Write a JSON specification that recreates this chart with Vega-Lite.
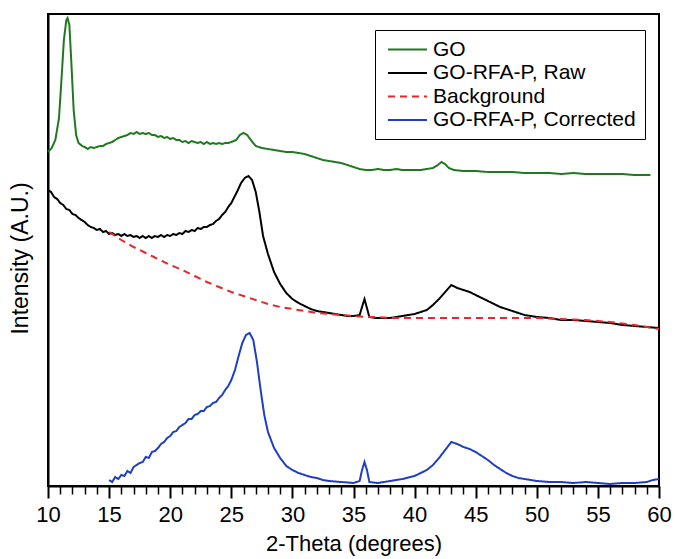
{
  "$schema": "https://vega.github.io/schema/vega-lite/v6.json",
  "width": 611,
  "height": 472,
  "autosize": {"type": "none"},
  "padding": {"left": 48, "top": 14, "right": 16, "bottom": 73},
  "background": "white",
  "config": {
    "font": "Liberation Sans",
    "view": {"stroke": "black", "strokeWidth": 2},
    "axis": {"domainColor": "black", "domainWidth": 2, "tickColor": "black", "labelColor": "black", "titleColor": "black", "grid": false, "titleFontWeight": "normal"}
  },
  "data": {
    "values": [
      {"s": "GO", "x": 10.0, "y": 334}, {"s": "GO", "x": 10.3, "y": 338}, {"s": "GO", "x": 10.6, "y": 346}, {"s": "GO", "x": 10.9, "y": 368},
      {"s": "GO", "x": 11.1, "y": 406}, {"s": "GO", "x": 11.3, "y": 446}, {"s": "GO", "x": 11.5, "y": 466}, {"s": "GO", "x": 11.6, "y": 468},
      {"s": "GO", "x": 11.75, "y": 461}, {"s": "GO", "x": 11.9, "y": 426}, {"s": "GO", "x": 12.1, "y": 376}, {"s": "GO", "x": 12.3, "y": 351},
      {"s": "GO", "x": 12.5, "y": 343}, {"s": "GO", "x": 12.8, "y": 340}, {"s": "GO", "x": 13.0, "y": 339}, {"s": "GO", "x": 13.25, "y": 337},
      {"s": "GO", "x": 13.5, "y": 339}, {"s": "GO", "x": 13.75, "y": 338}, {"s": "GO", "x": 14.0, "y": 339}, {"s": "GO", "x": 14.25, "y": 340},
      {"s": "GO", "x": 14.5, "y": 340}, {"s": "GO", "x": 14.75, "y": 342}, {"s": "GO", "x": 15.0, "y": 343}, {"s": "GO", "x": 15.25, "y": 344},
      {"s": "GO", "x": 15.5, "y": 346}, {"s": "GO", "x": 15.75, "y": 348}, {"s": "GO", "x": 16.0, "y": 349}, {"s": "GO", "x": 16.25, "y": 350},
      {"s": "GO", "x": 16.5, "y": 351}, {"s": "GO", "x": 16.75, "y": 353}, {"s": "GO", "x": 17.0, "y": 352}, {"s": "GO", "x": 17.25, "y": 354},
      {"s": "GO", "x": 17.5, "y": 352}, {"s": "GO", "x": 17.75, "y": 353}, {"s": "GO", "x": 18.0, "y": 352}, {"s": "GO", "x": 18.25, "y": 353},
      {"s": "GO", "x": 18.5, "y": 351}, {"s": "GO", "x": 18.75, "y": 351}, {"s": "GO", "x": 19.0, "y": 349}, {"s": "GO", "x": 19.25, "y": 350},
      {"s": "GO", "x": 19.5, "y": 348}, {"s": "GO", "x": 19.75, "y": 349}, {"s": "GO", "x": 20.0, "y": 347}, {"s": "GO", "x": 20.25, "y": 348},
      {"s": "GO", "x": 20.5, "y": 346}, {"s": "GO", "x": 20.75, "y": 346}, {"s": "GO", "x": 21.0, "y": 344}, {"s": "GO", "x": 21.25, "y": 345},
      {"s": "GO", "x": 21.5, "y": 343}, {"s": "GO", "x": 21.75, "y": 345}, {"s": "GO", "x": 22.0, "y": 344}, {"s": "GO", "x": 22.25, "y": 343},
      {"s": "GO", "x": 22.5, "y": 344}, {"s": "GO", "x": 22.75, "y": 342}, {"s": "GO", "x": 23.0, "y": 344}, {"s": "GO", "x": 23.25, "y": 342},
      {"s": "GO", "x": 23.5, "y": 343}, {"s": "GO", "x": 23.75, "y": 342}, {"s": "GO", "x": 24.0, "y": 343}, {"s": "GO", "x": 24.25, "y": 342},
      {"s": "GO", "x": 24.5, "y": 343}, {"s": "GO", "x": 24.75, "y": 343}, {"s": "GO", "x": 25.0, "y": 344}, {"s": "GO", "x": 25.4, "y": 346},
      {"s": "GO", "x": 25.7, "y": 351}, {"s": "GO", "x": 26.0, "y": 353}, {"s": "GO", "x": 26.3, "y": 351}, {"s": "GO", "x": 26.6, "y": 346},
      {"s": "GO", "x": 27.0, "y": 340}, {"s": "GO", "x": 27.5, "y": 338}, {"s": "GO", "x": 28.0, "y": 337}, {"s": "GO", "x": 28.5, "y": 336},
      {"s": "GO", "x": 29.0, "y": 335}, {"s": "GO", "x": 29.5, "y": 334}, {"s": "GO", "x": 30.0, "y": 334}, {"s": "GO", "x": 30.5, "y": 333},
      {"s": "GO", "x": 31.0, "y": 332}, {"s": "GO", "x": 31.5, "y": 330}, {"s": "GO", "x": 32.0, "y": 328}, {"s": "GO", "x": 32.5, "y": 326},
      {"s": "GO", "x": 33.0, "y": 325}, {"s": "GO", "x": 33.5, "y": 324}, {"s": "GO", "x": 34.0, "y": 323}, {"s": "GO", "x": 34.5, "y": 321},
      {"s": "GO", "x": 35.0, "y": 319}, {"s": "GO", "x": 35.5, "y": 317}, {"s": "GO", "x": 36.0, "y": 316}, {"s": "GO", "x": 36.5, "y": 316},
      {"s": "GO", "x": 37.0, "y": 317}, {"s": "GO", "x": 37.5, "y": 316}, {"s": "GO", "x": 38.0, "y": 316}, {"s": "GO", "x": 38.5, "y": 317},
      {"s": "GO", "x": 39.0, "y": 316}, {"s": "GO", "x": 39.5, "y": 316}, {"s": "GO", "x": 40.0, "y": 316}, {"s": "GO", "x": 40.5, "y": 316},
      {"s": "GO", "x": 41.0, "y": 317}, {"s": "GO", "x": 41.5, "y": 318}, {"s": "GO", "x": 41.9, "y": 321}, {"s": "GO", "x": 42.2, "y": 324},
      {"s": "GO", "x": 42.5, "y": 322}, {"s": "GO", "x": 42.8, "y": 318}, {"s": "GO", "x": 43.2, "y": 316}, {"s": "GO", "x": 44.0, "y": 315},
      {"s": "GO", "x": 45.0, "y": 315}, {"s": "GO", "x": 46.0, "y": 314}, {"s": "GO", "x": 47.0, "y": 314}, {"s": "GO", "x": 48.0, "y": 314},
      {"s": "GO", "x": 49.0, "y": 313}, {"s": "GO", "x": 50.0, "y": 313}, {"s": "GO", "x": 51.0, "y": 313}, {"s": "GO", "x": 52.0, "y": 312},
      {"s": "GO", "x": 53.0, "y": 313}, {"s": "GO", "x": 54.0, "y": 312}, {"s": "GO", "x": 55.0, "y": 312}, {"s": "GO", "x": 56.0, "y": 312},
      {"s": "GO", "x": 57.0, "y": 312}, {"s": "GO", "x": 58.0, "y": 311}, {"s": "GO", "x": 59.0, "y": 311}, {"s": "GO", "x": 59.3, "y": 311},

      {"s": "GO-RFA-P, Raw", "x": 10.0, "y": 296}, {"s": "GO-RFA-P, Raw", "x": 10.25, "y": 294}, {"s": "GO-RFA-P, Raw", "x": 10.5, "y": 289},
      {"s": "GO-RFA-P, Raw", "x": 10.75, "y": 287}, {"s": "GO-RFA-P, Raw", "x": 11.0, "y": 283}, {"s": "GO-RFA-P, Raw", "x": 11.25, "y": 281},
      {"s": "GO-RFA-P, Raw", "x": 11.5, "y": 277}, {"s": "GO-RFA-P, Raw", "x": 11.75, "y": 276}, {"s": "GO-RFA-P, Raw", "x": 12.0, "y": 272},
      {"s": "GO-RFA-P, Raw", "x": 12.25, "y": 271}, {"s": "GO-RFA-P, Raw", "x": 12.5, "y": 268}, {"s": "GO-RFA-P, Raw", "x": 12.75, "y": 266},
      {"s": "GO-RFA-P, Raw", "x": 13.0, "y": 264}, {"s": "GO-RFA-P, Raw", "x": 13.25, "y": 261}, {"s": "GO-RFA-P, Raw", "x": 13.5, "y": 259},
      {"s": "GO-RFA-P, Raw", "x": 13.75, "y": 258}, {"s": "GO-RFA-P, Raw", "x": 14.0, "y": 256}, {"s": "GO-RFA-P, Raw", "x": 14.25, "y": 257},
      {"s": "GO-RFA-P, Raw", "x": 14.5, "y": 254}, {"s": "GO-RFA-P, Raw", "x": 14.75, "y": 255}, {"s": "GO-RFA-P, Raw", "x": 15.0, "y": 252},
      {"s": "GO-RFA-P, Raw", "x": 15.25, "y": 253}, {"s": "GO-RFA-P, Raw", "x": 15.5, "y": 251}, {"s": "GO-RFA-P, Raw", "x": 15.75, "y": 252},
      {"s": "GO-RFA-P, Raw", "x": 16.0, "y": 250}, {"s": "GO-RFA-P, Raw", "x": 16.25, "y": 252}, {"s": "GO-RFA-P, Raw", "x": 16.5, "y": 250},
      {"s": "GO-RFA-P, Raw", "x": 16.75, "y": 251}, {"s": "GO-RFA-P, Raw", "x": 17.0, "y": 249}, {"s": "GO-RFA-P, Raw", "x": 17.25, "y": 250},
      {"s": "GO-RFA-P, Raw", "x": 17.5, "y": 248}, {"s": "GO-RFA-P, Raw", "x": 17.75, "y": 250}, {"s": "GO-RFA-P, Raw", "x": 18.0, "y": 248},
      {"s": "GO-RFA-P, Raw", "x": 18.25, "y": 250}, {"s": "GO-RFA-P, Raw", "x": 18.5, "y": 248}, {"s": "GO-RFA-P, Raw", "x": 18.75, "y": 250},
      {"s": "GO-RFA-P, Raw", "x": 19.0, "y": 249}, {"s": "GO-RFA-P, Raw", "x": 19.25, "y": 251}, {"s": "GO-RFA-P, Raw", "x": 19.5, "y": 249},
      {"s": "GO-RFA-P, Raw", "x": 19.75, "y": 251}, {"s": "GO-RFA-P, Raw", "x": 20.0, "y": 250}, {"s": "GO-RFA-P, Raw", "x": 20.25, "y": 252},
      {"s": "GO-RFA-P, Raw", "x": 20.5, "y": 251}, {"s": "GO-RFA-P, Raw", "x": 20.75, "y": 253}, {"s": "GO-RFA-P, Raw", "x": 21.0, "y": 252},
      {"s": "GO-RFA-P, Raw", "x": 21.25, "y": 255}, {"s": "GO-RFA-P, Raw", "x": 21.5, "y": 254}, {"s": "GO-RFA-P, Raw", "x": 21.75, "y": 256},
      {"s": "GO-RFA-P, Raw", "x": 22.0, "y": 255}, {"s": "GO-RFA-P, Raw", "x": 22.25, "y": 258}, {"s": "GO-RFA-P, Raw", "x": 22.5, "y": 257},
      {"s": "GO-RFA-P, Raw", "x": 22.75, "y": 259}, {"s": "GO-RFA-P, Raw", "x": 23.0, "y": 259}, {"s": "GO-RFA-P, Raw", "x": 23.25, "y": 261},
      {"s": "GO-RFA-P, Raw", "x": 23.5, "y": 262}, {"s": "GO-RFA-P, Raw", "x": 23.75, "y": 265}, {"s": "GO-RFA-P, Raw", "x": 24.0, "y": 267},
      {"s": "GO-RFA-P, Raw", "x": 24.25, "y": 271}, {"s": "GO-RFA-P, Raw", "x": 24.5, "y": 274}, {"s": "GO-RFA-P, Raw", "x": 24.75, "y": 279},
      {"s": "GO-RFA-P, Raw", "x": 25.0, "y": 283}, {"s": "GO-RFA-P, Raw", "x": 25.5, "y": 295},
      {"s": "GO-RFA-P, Raw", "x": 25.8, "y": 303}, {"s": "GO-RFA-P, Raw", "x": 26.1, "y": 308}, {"s": "GO-RFA-P, Raw", "x": 26.4, "y": 310},
      {"s": "GO-RFA-P, Raw", "x": 26.7, "y": 306}, {"s": "GO-RFA-P, Raw", "x": 27.0, "y": 294}, {"s": "GO-RFA-P, Raw", "x": 27.3, "y": 274},
      {"s": "GO-RFA-P, Raw", "x": 27.6, "y": 250}, {"s": "GO-RFA-P, Raw", "x": 28.0, "y": 232}, {"s": "GO-RFA-P, Raw", "x": 28.5, "y": 214},
      {"s": "GO-RFA-P, Raw", "x": 29.0, "y": 202}, {"s": "GO-RFA-P, Raw", "x": 29.5, "y": 193}, {"s": "GO-RFA-P, Raw", "x": 30.0, "y": 187},
      {"s": "GO-RFA-P, Raw", "x": 30.5, "y": 183}, {"s": "GO-RFA-P, Raw", "x": 31.0, "y": 180}, {"s": "GO-RFA-P, Raw", "x": 31.5, "y": 177},
      {"s": "GO-RFA-P, Raw", "x": 32.0, "y": 175}, {"s": "GO-RFA-P, Raw", "x": 32.5, "y": 174}, {"s": "GO-RFA-P, Raw", "x": 33.0, "y": 173},
      {"s": "GO-RFA-P, Raw", "x": 33.5, "y": 172}, {"s": "GO-RFA-P, Raw", "x": 34.0, "y": 171}, {"s": "GO-RFA-P, Raw", "x": 34.5, "y": 170},
      {"s": "GO-RFA-P, Raw", "x": 35.0, "y": 170}, {"s": "GO-RFA-P, Raw", "x": 35.5, "y": 171}, {"s": "GO-RFA-P, Raw", "x": 35.7, "y": 179},
      {"s": "GO-RFA-P, Raw", "x": 35.9, "y": 187}, {"s": "GO-RFA-P, Raw", "x": 36.1, "y": 178}, {"s": "GO-RFA-P, Raw", "x": 36.3, "y": 169},
      {"s": "GO-RFA-P, Raw", "x": 36.8, "y": 168}, {"s": "GO-RFA-P, Raw", "x": 37.5, "y": 168}, {"s": "GO-RFA-P, Raw", "x": 38.0, "y": 168},
      {"s": "GO-RFA-P, Raw", "x": 38.5, "y": 169}, {"s": "GO-RFA-P, Raw", "x": 39.0, "y": 170}, {"s": "GO-RFA-P, Raw", "x": 39.5, "y": 171},
      {"s": "GO-RFA-P, Raw", "x": 40.0, "y": 172}, {"s": "GO-RFA-P, Raw", "x": 40.5, "y": 174}, {"s": "GO-RFA-P, Raw", "x": 41.0, "y": 176},
      {"s": "GO-RFA-P, Raw", "x": 41.5, "y": 181}, {"s": "GO-RFA-P, Raw", "x": 42.0, "y": 187}, {"s": "GO-RFA-P, Raw", "x": 42.5, "y": 194},
      {"s": "GO-RFA-P, Raw", "x": 43.0, "y": 201}, {"s": "GO-RFA-P, Raw", "x": 43.5, "y": 198}, {"s": "GO-RFA-P, Raw", "x": 44.0, "y": 196},
      {"s": "GO-RFA-P, Raw", "x": 44.5, "y": 194}, {"s": "GO-RFA-P, Raw", "x": 45.0, "y": 191}, {"s": "GO-RFA-P, Raw", "x": 45.5, "y": 188},
      {"s": "GO-RFA-P, Raw", "x": 46.0, "y": 185}, {"s": "GO-RFA-P, Raw", "x": 46.5, "y": 182}, {"s": "GO-RFA-P, Raw", "x": 47.0, "y": 179},
      {"s": "GO-RFA-P, Raw", "x": 47.5, "y": 177}, {"s": "GO-RFA-P, Raw", "x": 48.0, "y": 175}, {"s": "GO-RFA-P, Raw", "x": 48.5, "y": 173},
      {"s": "GO-RFA-P, Raw", "x": 49.0, "y": 171}, {"s": "GO-RFA-P, Raw", "x": 49.5, "y": 170}, {"s": "GO-RFA-P, Raw", "x": 50.0, "y": 169},
      {"s": "GO-RFA-P, Raw", "x": 51.0, "y": 168}, {"s": "GO-RFA-P, Raw", "x": 52.0, "y": 166}, {"s": "GO-RFA-P, Raw", "x": 53.0, "y": 166},
      {"s": "GO-RFA-P, Raw", "x": 54.0, "y": 165}, {"s": "GO-RFA-P, Raw", "x": 55.0, "y": 164}, {"s": "GO-RFA-P, Raw", "x": 56.0, "y": 163},
      {"s": "GO-RFA-P, Raw", "x": 57.0, "y": 161}, {"s": "GO-RFA-P, Raw", "x": 58.0, "y": 160}, {"s": "GO-RFA-P, Raw", "x": 59.0, "y": 159},
      {"s": "GO-RFA-P, Raw", "x": 60.0, "y": 158},

      {"s": "Background", "x": 15, "y": 254}, {"s": "Background", "x": 16, "y": 246}, {"s": "Background", "x": 17, "y": 239},
      {"s": "Background", "x": 18, "y": 233}, {"s": "Background", "x": 19, "y": 227}, {"s": "Background", "x": 20, "y": 221},
      {"s": "Background", "x": 21, "y": 216}, {"s": "Background", "x": 22, "y": 210}, {"s": "Background", "x": 23, "y": 204},
      {"s": "Background", "x": 24, "y": 199}, {"s": "Background", "x": 25, "y": 194}, {"s": "Background", "x": 26, "y": 190},
      {"s": "Background", "x": 27, "y": 186}, {"s": "Background", "x": 28, "y": 182}, {"s": "Background", "x": 29, "y": 179},
      {"s": "Background", "x": 30, "y": 177}, {"s": "Background", "x": 31, "y": 175}, {"s": "Background", "x": 32, "y": 173},
      {"s": "Background", "x": 33, "y": 172}, {"s": "Background", "x": 34, "y": 171}, {"s": "Background", "x": 35, "y": 170},
      {"s": "Background", "x": 36, "y": 169}, {"s": "Background", "x": 37, "y": 169}, {"s": "Background", "x": 38, "y": 168},
      {"s": "Background", "x": 40, "y": 168}, {"s": "Background", "x": 42, "y": 168}, {"s": "Background", "x": 44, "y": 168},
      {"s": "Background", "x": 46, "y": 168}, {"s": "Background", "x": 48, "y": 168}, {"s": "Background", "x": 50, "y": 168},
      {"s": "Background", "x": 52, "y": 167}, {"s": "Background", "x": 54, "y": 166}, {"s": "Background", "x": 56, "y": 164},
      {"s": "Background", "x": 58, "y": 161}, {"s": "Background", "x": 60, "y": 157},

      {"s": "GO-RFA-P, Corrected", "x": 15.0, "y": 6}, {"s": "GO-RFA-P, Corrected", "x": 15.25, "y": 4}, {"s": "GO-RFA-P, Corrected", "x": 15.5, "y": 9},
      {"s": "GO-RFA-P, Corrected", "x": 15.75, "y": 7}, {"s": "GO-RFA-P, Corrected", "x": 16.0, "y": 11}, {"s": "GO-RFA-P, Corrected", "x": 16.25, "y": 10},
      {"s": "GO-RFA-P, Corrected", "x": 16.5, "y": 15}, {"s": "GO-RFA-P, Corrected", "x": 16.75, "y": 13}, {"s": "GO-RFA-P, Corrected", "x": 17.0, "y": 19},
      {"s": "GO-RFA-P, Corrected", "x": 17.25, "y": 21}, {"s": "GO-RFA-P, Corrected", "x": 17.5, "y": 23}, {"s": "GO-RFA-P, Corrected", "x": 17.75, "y": 24},
      {"s": "GO-RFA-P, Corrected", "x": 18.0, "y": 29}, {"s": "GO-RFA-P, Corrected", "x": 18.25, "y": 28}, {"s": "GO-RFA-P, Corrected", "x": 18.5, "y": 34},
      {"s": "GO-RFA-P, Corrected", "x": 18.75, "y": 35}, {"s": "GO-RFA-P, Corrected", "x": 19.0, "y": 38}, {"s": "GO-RFA-P, Corrected", "x": 19.25, "y": 42},
      {"s": "GO-RFA-P, Corrected", "x": 19.5, "y": 44}, {"s": "GO-RFA-P, Corrected", "x": 19.75, "y": 48}, {"s": "GO-RFA-P, Corrected", "x": 20.0, "y": 50},
      {"s": "GO-RFA-P, Corrected", "x": 20.25, "y": 54}, {"s": "GO-RFA-P, Corrected", "x": 20.5, "y": 55}, {"s": "GO-RFA-P, Corrected", "x": 20.75, "y": 59},
      {"s": "GO-RFA-P, Corrected", "x": 21.0, "y": 61}, {"s": "GO-RFA-P, Corrected", "x": 21.25, "y": 63}, {"s": "GO-RFA-P, Corrected", "x": 21.5, "y": 67},
      {"s": "GO-RFA-P, Corrected", "x": 21.75, "y": 67}, {"s": "GO-RFA-P, Corrected", "x": 22.0, "y": 71}, {"s": "GO-RFA-P, Corrected", "x": 22.25, "y": 72},
      {"s": "GO-RFA-P, Corrected", "x": 22.5, "y": 75}, {"s": "GO-RFA-P, Corrected", "x": 22.75, "y": 75}, {"s": "GO-RFA-P, Corrected", "x": 23.0, "y": 79},
      {"s": "GO-RFA-P, Corrected", "x": 23.25, "y": 80}, {"s": "GO-RFA-P, Corrected", "x": 23.5, "y": 83}, {"s": "GO-RFA-P, Corrected", "x": 23.75, "y": 84},
      {"s": "GO-RFA-P, Corrected", "x": 24.0, "y": 88}, {"s": "GO-RFA-P, Corrected", "x": 24.25, "y": 91}, {"s": "GO-RFA-P, Corrected", "x": 24.5, "y": 96},
      {"s": "GO-RFA-P, Corrected", "x": 24.75, "y": 100}, {"s": "GO-RFA-P, Corrected", "x": 25.0, "y": 106},
      {"s": "GO-RFA-P, Corrected", "x": 25.3, "y": 116}, {"s": "GO-RFA-P, Corrected", "x": 25.6, "y": 130}, {"s": "GO-RFA-P, Corrected", "x": 25.9, "y": 143},
      {"s": "GO-RFA-P, Corrected", "x": 26.2, "y": 151}, {"s": "GO-RFA-P, Corrected", "x": 26.5, "y": 153}, {"s": "GO-RFA-P, Corrected", "x": 26.8, "y": 146},
      {"s": "GO-RFA-P, Corrected", "x": 27.1, "y": 124}, {"s": "GO-RFA-P, Corrected", "x": 27.4, "y": 96}, {"s": "GO-RFA-P, Corrected", "x": 27.7, "y": 71},
      {"s": "GO-RFA-P, Corrected", "x": 28.0, "y": 54}, {"s": "GO-RFA-P, Corrected", "x": 28.5, "y": 38}, {"s": "GO-RFA-P, Corrected", "x": 29.0, "y": 28},
      {"s": "GO-RFA-P, Corrected", "x": 29.5, "y": 20}, {"s": "GO-RFA-P, Corrected", "x": 30.0, "y": 16}, {"s": "GO-RFA-P, Corrected", "x": 30.5, "y": 13},
      {"s": "GO-RFA-P, Corrected", "x": 31.0, "y": 11}, {"s": "GO-RFA-P, Corrected", "x": 31.5, "y": 9}, {"s": "GO-RFA-P, Corrected", "x": 32.0, "y": 8},
      {"s": "GO-RFA-P, Corrected", "x": 32.5, "y": 6}, {"s": "GO-RFA-P, Corrected", "x": 33.0, "y": 5}, {"s": "GO-RFA-P, Corrected", "x": 34.0, "y": 4},
      {"s": "GO-RFA-P, Corrected", "x": 35.0, "y": 3}, {"s": "GO-RFA-P, Corrected", "x": 35.5, "y": 5}, {"s": "GO-RFA-P, Corrected", "x": 35.7, "y": 16},
      {"s": "GO-RFA-P, Corrected", "x": 35.9, "y": 24}, {"s": "GO-RFA-P, Corrected", "x": 36.1, "y": 16}, {"s": "GO-RFA-P, Corrected", "x": 36.3, "y": 4},
      {"s": "GO-RFA-P, Corrected", "x": 37.0, "y": 3}, {"s": "GO-RFA-P, Corrected", "x": 38.0, "y": 5}, {"s": "GO-RFA-P, Corrected", "x": 39.0, "y": 7},
      {"s": "GO-RFA-P, Corrected", "x": 40.0, "y": 10}, {"s": "GO-RFA-P, Corrected", "x": 40.5, "y": 13}, {"s": "GO-RFA-P, Corrected", "x": 41.0, "y": 16},
      {"s": "GO-RFA-P, Corrected", "x": 41.5, "y": 21}, {"s": "GO-RFA-P, Corrected", "x": 42.0, "y": 28}, {"s": "GO-RFA-P, Corrected", "x": 42.5, "y": 36},
      {"s": "GO-RFA-P, Corrected", "x": 43.0, "y": 44}, {"s": "GO-RFA-P, Corrected", "x": 43.5, "y": 42}, {"s": "GO-RFA-P, Corrected", "x": 44.0, "y": 39},
      {"s": "GO-RFA-P, Corrected", "x": 44.5, "y": 37}, {"s": "GO-RFA-P, Corrected", "x": 45.0, "y": 34}, {"s": "GO-RFA-P, Corrected", "x": 45.5, "y": 30},
      {"s": "GO-RFA-P, Corrected", "x": 46.0, "y": 26}, {"s": "GO-RFA-P, Corrected", "x": 46.5, "y": 21}, {"s": "GO-RFA-P, Corrected", "x": 47.0, "y": 17},
      {"s": "GO-RFA-P, Corrected", "x": 47.5, "y": 13}, {"s": "GO-RFA-P, Corrected", "x": 48.0, "y": 10}, {"s": "GO-RFA-P, Corrected", "x": 48.5, "y": 8},
      {"s": "GO-RFA-P, Corrected", "x": 49.0, "y": 7}, {"s": "GO-RFA-P, Corrected", "x": 50.0, "y": 5}, {"s": "GO-RFA-P, Corrected", "x": 51.0, "y": 4},
      {"s": "GO-RFA-P, Corrected", "x": 52.0, "y": 4}, {"s": "GO-RFA-P, Corrected", "x": 53.0, "y": 3}, {"s": "GO-RFA-P, Corrected", "x": 54.0, "y": 4},
      {"s": "GO-RFA-P, Corrected", "x": 55.0, "y": 3}, {"s": "GO-RFA-P, Corrected", "x": 56.0, "y": 2}, {"s": "GO-RFA-P, Corrected", "x": 57.0, "y": 3},
      {"s": "GO-RFA-P, Corrected", "x": 58.0, "y": 3}, {"s": "GO-RFA-P, Corrected", "x": 59.0, "y": 4}, {"s": "GO-RFA-P, Corrected", "x": 59.5, "y": 6},
      {"s": "GO-RFA-P, Corrected", "x": 60.0, "y": 7}
    ]
  },
  "resolve": {"axis": {"x": "independent", "y": "independent"}},
  "layer": [
    {
      "transform": [{"filter": "datum.s !== 'Background'"}],
      "mark": {"type": "line", "strokeWidth": 2},
      "encoding": {
        "x": {
          "field": "x", "type": "quantitative",
          "scale": {"domain": [10, 60], "nice": false, "zero": false},
          "axis": {
            "orient": "bottom", "values": [10, 15, 20, 25, 30, 35, 40, 45, 50, 55, 60],
            "tickSize": 12, "tickWidth": 2, "labelFontSize": 22, "labelPadding": 6,
            "labelFlush": false, "labelOverlap": false,
            "title": "2-Theta (degrees)", "titleFontSize": 22, "titlePadding": 8
          }
        },
        "y": {
          "field": "y", "type": "quantitative",
          "scale": {"domain": [0, 472], "nice": false},
          "axis": {"ticks": false, "labels": false, "title": "Intensity (A.U.)", "titleFontSize": 23, "titlePadding": 16, "titleY": 244}
        },
        "color": {
          "field": "s", "type": "nominal",
          "scale": {"domain": ["GO", "GO-RFA-P, Raw", "Background", "GO-RFA-P, Corrected"], "range": ["#1f7a1f", "#000000", "#e8262b", "#1f3fc0"]},
          "legend": {
            "title": null, "orient": "none", "legendX": 327, "legendY": 16,
            "symbolType": "M-2.6,0H2.6", "symbolSize": 225, "symbolStrokeWidth": 2, "symbolOffset": 13,
            "labelFontSize": 21, "labelColor": "black", "labelLimit": 400, "labelOffset": 15,
            "padding": 9, "rowPadding": 1.5,
            "strokeColor": "black", "fillColor": "white"
          }
        },
        "strokeDash": {
          "field": "s", "type": "nominal",
          "scale": {"domain": ["GO", "GO-RFA-P, Raw", "Background", "GO-RFA-P, Corrected"], "range": [[1, 0], [1, 0], [7, 5], [1, 0]]},
          "legend": {
            "title": null, "orient": "none", "legendX": 327, "legendY": 16,
            "symbolType": "M-2.6,0H2.6", "symbolSize": 225, "symbolStrokeWidth": 2, "symbolOffset": 13,
            "labelFontSize": 21, "labelColor": "black", "labelLimit": 400, "labelOffset": 15,
            "padding": 9, "rowPadding": 1.5,
            "strokeColor": "black", "fillColor": "white"
          }
        }
      }
    },
    {
      "transform": [{"filter": "datum.s === 'Background'"}],
      "mark": {"type": "line", "strokeWidth": 2},
      "encoding": {
        "x": {
          "field": "x", "type": "quantitative",
          "scale": {"domain": [10, 60], "nice": false, "zero": false},
          "axis": {
            "orient": "bottom", "values": [11, 12, 13, 14, 16, 17, 18, 19, 21, 22, 23, 24, 26, 27, 28, 29, 31, 32, 33, 34, 36, 37, 38, 39, 41, 42, 43, 44, 46, 47, 48, 49, 51, 52, 53, 54, 56, 57, 58, 59],
            "tickSize": 8, "tickWidth": 1.5, "labels": false, "domain": false, "title": null
          }
        },
        "y": {"field": "y", "type": "quantitative", "scale": {"domain": [0, 472], "nice": false}, "axis": null},
        "color": {"field": "s", "type": "nominal"},
        "strokeDash": {"field": "s", "type": "nominal"}
      }
    }
  ]
}
